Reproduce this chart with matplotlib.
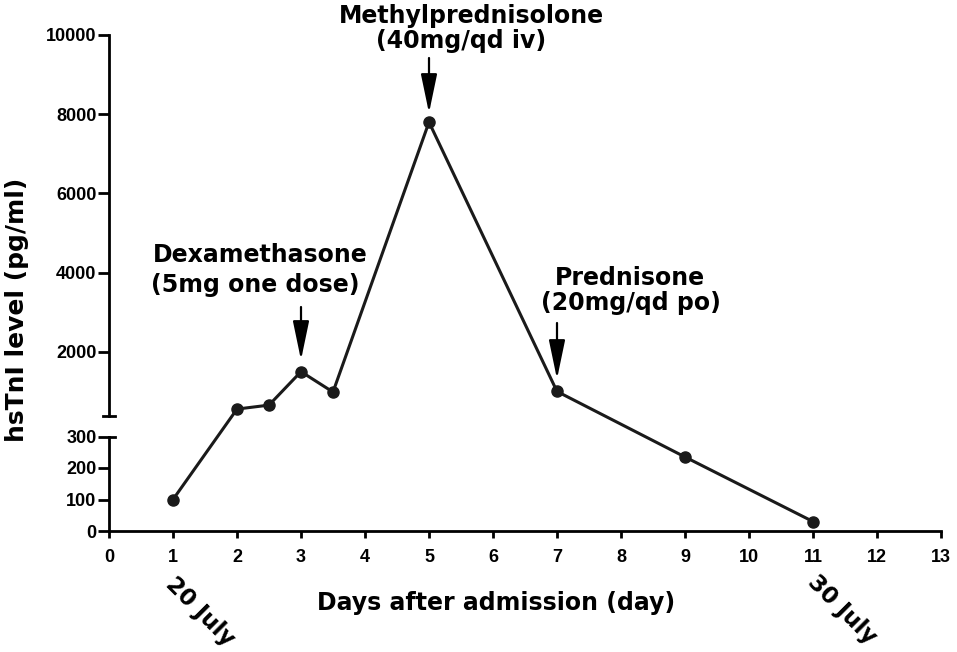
import matplotlib
matplotlib.use('Agg')
import matplotlib.pyplot as plt
import numpy as np

# data
days = [1, 2, 2.5, 3, 3.5, 5, 7, 9, 11]
hstni = [100, 555, 655, 1500, 985, 7800, 1000, 235, 30]
xticks = list(range(0, 14))
yticks = [0, 100, 200, 300, 2000, 4000, 6000, 8000, 10000]

# drug annotations: (day, line1, line2)
drugs = [
    (3, 'Dexamethasone', '(5mg one dose)'),
    (5, 'Methylprednisolone', '(40mg/qd iv)'),
    (7, 'Prednisone', '(20mg/qd po)'),
]
dates = [(1, '20 July'), (11, '30 July')]

W, H = 957, 652
X0, X1 = 109, 941          # pixel of x=0 and x=13
Y0, Y1 = 531, 35           # pixel of y=0 and y=10000

# broken y axis: 0-300 lower part, 380-10000 upper part
LO_TOP, HI_BOT = 300, 380
U_LO, U_HI, U_TOP = 94.5, 115.0, 496.0
slope_lo = U_LO / LO_TOP
slope_hi = (U_TOP - U_HI) / (10000 - HI_BOT)
slope_gap = (U_HI - U_LO) / (HI_BOT - LO_TOP)


def fwd(v):
    v = np.asarray(v, dtype=float)
    return np.where(v <= LO_TOP, v * slope_lo,
                    np.where(v >= HI_BOT, U_HI + (v - HI_BOT) * slope_hi,
                             U_LO + (v - LO_TOP) * slope_gap))


def inv(u):
    u = np.asarray(u, dtype=float)
    return np.where(u <= U_LO, u / slope_lo,
                    np.where(u >= U_HI, HI_BOT + (u - U_HI) / slope_hi,
                             LO_TOP + (u - U_LO) / slope_gap))


def py2y(py):
    return float(inv(Y0 - py))


big = dict(family='DejaVu Sans', weight='bold', size=17, color='black')
ink = '#1a1a1a'

fig = plt.figure(figsize=(W / 100, H / 100), dpi=100)
ax = fig.add_axes([X0 / W, 1 - Y0 / H, (X1 - X0) / W, (Y0 - Y1) / H])
ax.set_yscale('function', functions=(fwd, inv))
ax.set_xlim(0, 13)
ax.set_ylim(0, 10000)

ax.plot(days, hstni, color=ink, lw=2.2, marker='o', markersize=8,
        markerfacecolor=ink, markeredgecolor=ink, clip_on=False, zorder=3)

ax.set_xticks(xticks)
ax.set_yticks(yticks)
ax.yaxis.set_minor_locator(matplotlib.ticker.NullLocator())
ax.set_yticklabels([str(t) for t in yticks])
for lab in ax.get_xticklabels() + ax.get_yticklabels():
    lab.set_family('Liberation Sans')
    lab.set_weight('bold')
    lab.set_fontsize(13)
ax.tick_params(axis='x', length=5, width=2, pad=8, color='black')
ax.tick_params(axis='y', length=8, width=2, pad=1, color='black')

for s in ['top', 'right', 'left']:
    ax.spines[s].set_visible(False)
ax.spines['bottom'].set_linewidth(2)

# left spine drawn in two pieces with caps at the break
yt = ax.get_yaxis_transform()
cap = 6 / (X1 - X0)
ax.plot([0, 0], [0, LO_TOP], color='black', lw=2, transform=yt, clip_on=False,
        solid_capstyle='projecting')
ax.plot([0, 0], [HI_BOT, 10000], color='black', lw=2, transform=yt, clip_on=False)
ax.plot([0, cap], [LO_TOP, LO_TOP], color='black', lw=2, transform=yt, clip_on=False)
ax.plot([-cap, cap], [HI_BOT, HI_BOT], color='black', lw=2, transform=yt, clip_on=False)

# arrows and drug names
arrow_px = {3: (307, 360), 5: (58, 113), 7: (323, 379)}
text_px = {3: ((260, 262), (255, 292)),
           5: ((471, 23), (461, 48)),
           7: ((630, 285), (631, 310))}
for d, l1, l2 in drugs:
    ys, ye = arrow_px[d]
    ax.annotate('', xy=(d, py2y(ye)), xytext=(d, py2y(ys)),
                arrowprops=dict(arrowstyle='-|>,head_length=2.4,head_width=0.5',
                                color='black', lw=1.6, shrinkA=0, shrinkB=0),
                annotation_clip=False)
    (x1, b1), (x2, b2) = text_px[d]
    fig.text(x1 / W, 1 - b1 / H, l1, ha='center', va='baseline', **big)
    fig.text(x2 / W, 1 - b2 / H, l2, ha='center', va='baseline', **big)

# date labels under the x axis
date_px = {1: (161, 573), 11: (803, 571)}
for d, txt in dates:
    px, py = date_px[d]
    fig.text(px / W, 1 - py / H, txt, rotation=-45, ha='left', va='top',
             family='DejaVu Sans', weight='bold', size=16.5, color='black')

fig.text(496 / W, 1 - 603 / H, 'Days after admission (day)', ha='center',
         va='center', **big)
fig.text(17 / W, 1 - 310 / H, 'hsTnI level (pg/ml)', rotation=90, ha='center',
         va='center', family='DejaVu Sans', weight='bold', size=18)

fig.savefig('out.png', dpi=100)
